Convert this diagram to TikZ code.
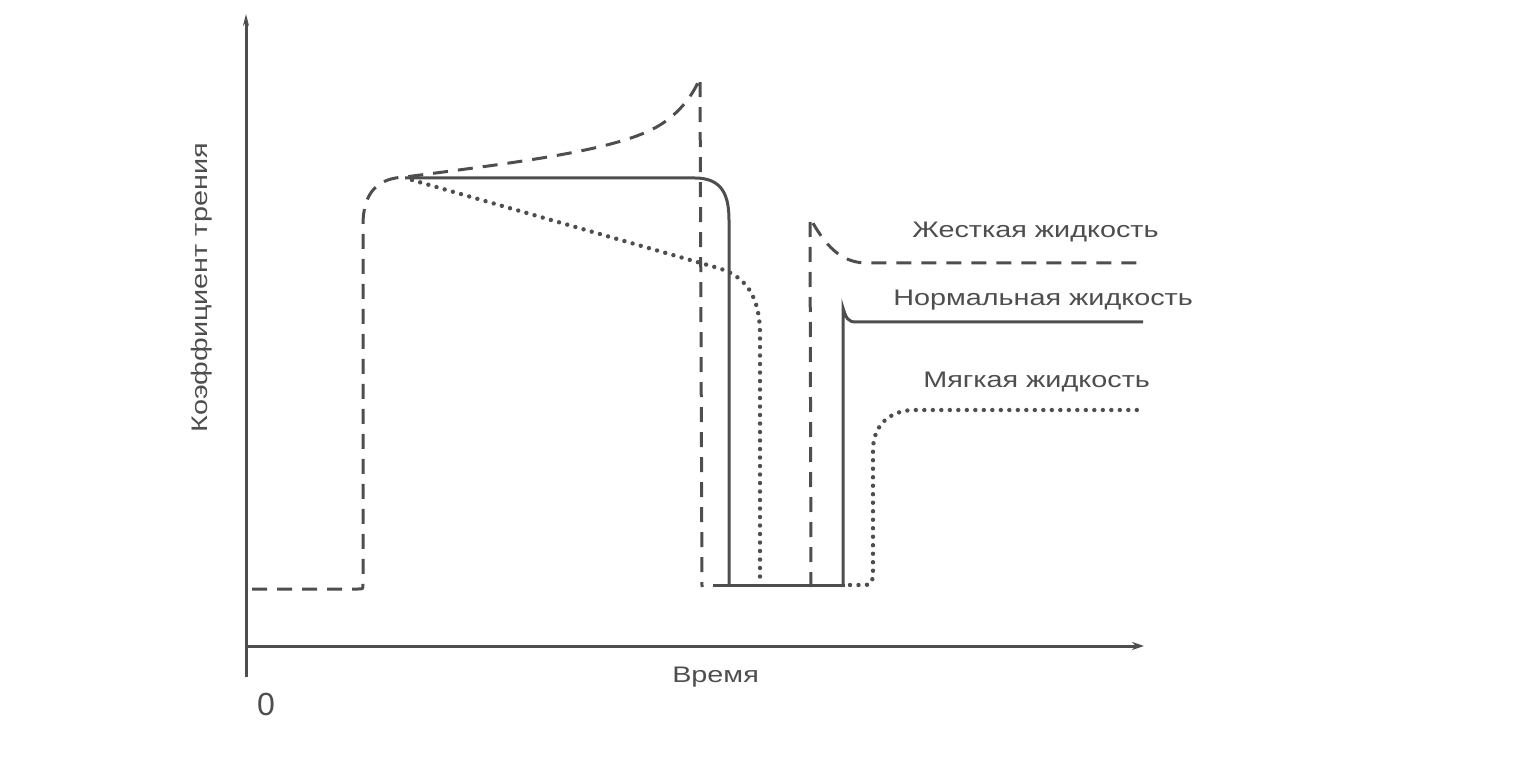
\documentclass[tikz,border=0pt]{standalone}
\usepackage{fontspec}
\setmainfont{Liberation Sans}
\usetikzlibrary{arrows.meta}
\definecolor{ink}{RGB}{78,78,78}
\tikzset{
  curve/.style={draw=ink, line width=3pt},
  hard/.style={curve, dash pattern=on 15pt off 10pt},
  normal/.style={curve},
  soft/.style={curve, line cap=round, dash pattern=on 0pt off 8.5pt, line width=4.4pt},
  axis/.style={draw=ink, line width=3pt},
  lbltxt/.style={text=ink, inner sep=0pt, font=\fontsize{22.5}{26}\selectfont},
  lbl/.style={lbltxt, xscale=1.28},
}
\begin{document}
\begin{tikzpicture}[x=1pt,y=-1pt]
\useasboundingbox (0,0) rectangle (1516,759);
% axes
\coordinate (o) at (246,646);
\coordinate (ytop) at (246,14);
\coordinate (ybot) at (246,677);
\coordinate (xend) at (1144,646);
\draw[axis, -{Stealth[length=12pt,width=6pt]}] (ybot) -- (ytop);
\draw[axis, -{Stealth[length=12pt,width=8pt]}] (o) -- (xend);
% hard fluid (dashed)
\draw[hard] (252,589) -- (358,589) .. controls (363,589) .. (363,584) -- (363,225)
  .. controls (363,190) and (380,178) .. (405,177)
  .. controls (520,162) and (620,150) .. (660,125)
  .. controls (680,112.5) and (693,95) .. (700,78) -- (702,587);
\draw[hard] (811,587) -- (810,218) .. controls (825,245) and (840,262) .. (865,263) -- (1138,263);
% normal fluid (solid)
\draw[normal] (405,178) -- (695,178) .. controls (722,178) and (729,195) .. (729,220) -- (729,585);
\draw[normal] (713,585) -- (845,585);
\draw[normal] (843,585) -- (843,308) .. controls (846,318) and (848,322) .. (856,322) -- (1143,322);
% soft fluid (dotted)
\draw[soft] (412,180) -- (718,268) .. controls (745,276) and (760,295) .. (760,335) -- (760,585);
\draw[soft] (850,585) -- (866,585) .. controls (872,585) and (873,580) .. (873,572) -- (873,450)
  .. controls (873,425) and (890,410) .. (915,410) -- (1137,410);
% labels
\node[lbl, anchor=base west] (lh) at (912,238) {Жесткая жидкость};
\node[lbl, anchor=base west] (ln) at (893,306) {Нормальная жидкость};
\node[lbl, anchor=base west] (ls) at (923,388) {Мягкая жидкость};
\node[lbl, anchor=base west] (lt) at (672,682) {Время};
\node[text=ink, inner sep=0pt, anchor=base west, font=\fontsize{32}{36}\selectfont] (l0) at (257,715) {0};
\node[rotate=90, lbl, anchor=base] (ly) at (207,288) {Коэффициент трения};
\end{tikzpicture}
\end{document}
